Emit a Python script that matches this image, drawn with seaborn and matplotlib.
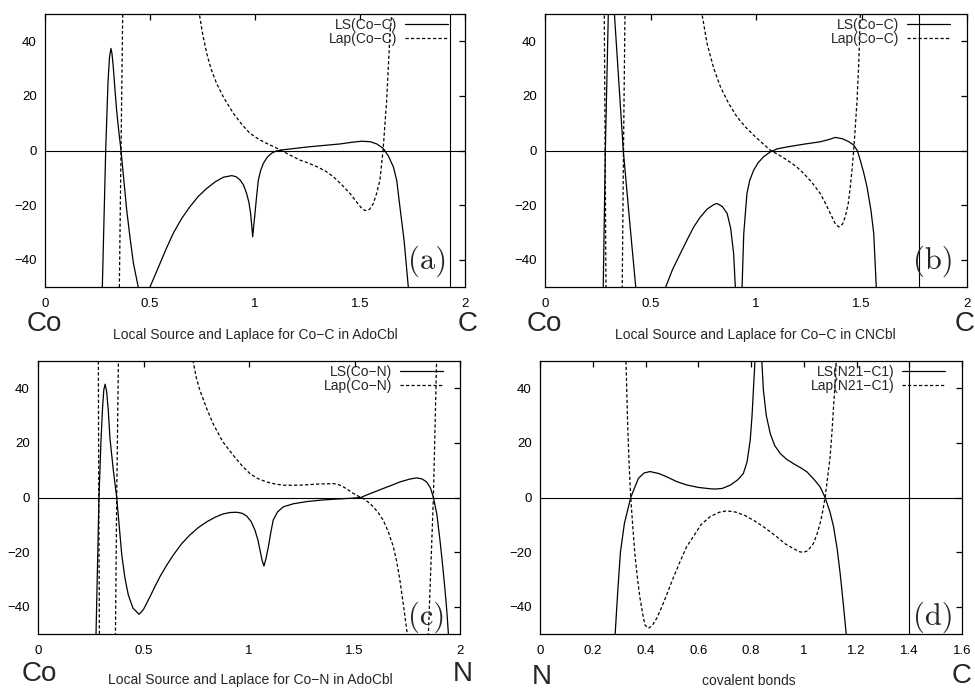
import numpy as np
import pandas as pd
import matplotlib
matplotlib.use("Agg")
import matplotlib.pyplot as plt
import seaborn as sns
from matplotlib.ticker import FuncFormatter, MultipleLocator
from matplotlib.lines import Line2D

sns.set_style("white")
plt.rcParams["font.family"] = ["Liberation Sans", "DejaVu Sans"]

# ---------------- data ----------------
# (a) Co-C in AdoCbl
a_ls_x = [0.26, 0.273, 0.289, 0.300, 0.307, 0.314, 0.319, 0.325, 0.333, 0.341, 0.350, 0.362,
          0.375, 0.389, 0.405, 0.421, 0.444, 0.472, 0.500, 0.525, 0.548, 0.580, 0.611, 0.650,
          0.690, 0.730, 0.770, 0.810, 0.849, 0.889, 0.910, 0.929, 0.945, 0.960, 0.971, 0.979,
          0.985, 0.989, 0.994, 1.000, 1.008, 1.016, 1.027, 1.040, 1.058, 1.079, 1.100, 1.127,
          1.25, 1.405, 1.46, 1.508, 1.55, 1.58, 1.61, 1.635, 1.659, 1.675, 1.69, 1.71,
          1.73, 1.75]
a_ls_y = [-80, -50, 0, 25, 34, 37.4, 35.5, 30.7, 22.5, 14.8, 8, 0,
          -10.5, -21.8, -32, -41.3, -50, -60, -50, -45.5, -41.3, -35.5, -30.3, -25,
          -20.6, -16.8, -13.9, -11.5, -9.8, -9.2, -9.6, -10.8, -12.6, -15.7, -19, -23,
          -28, -31.6, -27.5, -23, -16.5, -10.8, -7.3, -4.7, -2.5, -1, -0.2, 0.2,
          1.3, 2.4, 3.0, 3.4, 3.2, 2.4, 0.8, -2, -6, -11, -20.6, -33,
          -50, -70]
a_lap_x = [0.30, 0.354, 0.362, 0.370, 0.40, 0.55, 0.70, 0.735, 0.75, 0.77, 0.79, 0.817,
           0.85, 0.897, 0.94, 0.976, 1.02, 1.056, 1.10, 1.135, 1.175, 1.214, 1.254, 1.294,
           1.335, 1.373, 1.41, 1.452, 1.49, 1.510, 1.524, 1.545, 1.563, 1.58, 1.595, 1.61,
           1.627, 1.643, 1.651, 1.66]
a_lap_y = [-80, -50, 0, 50, 80, 90, 80, 50, 43, 35.6, 30, 24.6,
           19.5, 13.6, 9.3, 6.3, 4, 2.6, 1.0, -0.4, -2, -3.5, -4.6, -5.9,
           -7.5, -9.6, -12.3, -15.7, -19.5, -21.3, -22, -21.6, -19.5, -15.5, -10.8, 0.2,
           18.5, 43, 50, 70]

# (b) Co-C in CNCbl
b_ls_x = [0.26, 0.276, 0.286, 0.300, 0.315, 0.329, 0.350, 0.371, 0.40, 0.43, 0.50, 0.572,
          0.605, 0.641, 0.675, 0.705, 0.735, 0.768, 0.80, 0.815, 0.84, 0.863, 0.88, 0.894,
          0.902, 0.918, 0.934, 0.942, 0.957, 0.97, 0.989, 1.01, 1.036, 1.068, 1.10, 1.147,
          1.225, 1.305, 1.345, 1.376, 1.41, 1.44, 1.463, 1.48, 1.494, 1.51, 1.526, 1.545,
          1.558, 1.57, 1.58]
b_ls_y = [-80, -50, 0, 50, 70, 50, 25, 0, -25, -50, -70, -50,
          -43.5, -37.8, -32.5, -28, -24.5, -21.5, -19.8, -19.4, -20.5, -23, -28.5, -37.8,
          -50, -80, -50, -30.4, -15.8, -11, -7.2, -4.5, -2.3, -0.5, 0.6, 1.3,
          2.3, 3.2, 4.0, 4.8, 4.3, 3.2, 2.0, 0, -3.5, -8, -13.3, -22,
          -30.4, -50, -70]
b_lap_x = [0.25, 0.281, 0.285, 0.289, 0.32, 0.366, 0.372, 0.379, 0.42, 0.6, 0.72, 0.744,
           0.768, 0.80, 0.831, 0.87, 0.91, 0.95, 0.989, 1.03, 1.068, 1.11, 1.147, 1.19,
           1.226, 1.265, 1.305, 1.33, 1.352, 1.375, 1.392, 1.41, 1.423, 1.437, 1.447, 1.455,
           1.463, 1.471, 1.479, 1.487, 1.494, 1.50]
b_lap_y = [80, 50, 0, -50, -80, -50, 0, 50, 80, 90, 80, 50,
           39.2, 30, 23.4, 17.3, 12.3, 8.6, 5.6, 2.7, 0.1, -1.7, -3.5, -5.8,
           -8.4, -11.7, -15.8, -19.5, -23, -26.7, -28, -27, -24.3, -19.5, -13.3, -7,
           0.1, 9, 18.5, 32, 49, 70]

# (c) Co-N in AdoCbl
c_ls_x = [0.26, 0.275, 0.289, 0.298, 0.306, 0.312, 0.318, 0.325, 0.333, 0.341, 0.357, 0.373,
          0.397, 0.412, 0.428, 0.45, 0.479, 0.50, 0.531, 0.555, 0.578, 0.61, 0.641, 0.68,
          0.72, 0.76, 0.80, 0.84, 0.878, 0.91, 0.942, 0.968, 0.989, 1.01, 1.028, 1.042,
          1.052, 1.062, 1.071, 1.08, 1.092, 1.104, 1.115, 1.135, 1.163, 1.21, 1.273, 1.35,
          1.431, 1.48, 1.53, 1.557, 1.6, 1.636, 1.68, 1.715, 1.76, 1.794, 1.82, 1.842,
          1.86, 1.874, 1.89, 1.905, 1.918, 1.929, 1.938, 1.945, 1.955]
c_ls_y = [-80, -50, 0, 20, 33, 39.5, 41.5, 39, 32, 21.7, 10, 0,
          -21, -29.5, -35.7, -40.5, -42.8, -41, -36.3, -32.5, -29, -24.8, -21.1, -17,
          -13.7, -11, -8.9, -7.2, -6.0, -5.5, -5.4, -5.8, -6.8, -8.8, -11.9, -15.5,
          -19.2, -23, -25.1, -22.5, -18, -12.5, -8.2, -5.3, -3.4, -2.3, -1.5, -0.9,
          -0.5, -0.3, 0, 0.9, 2.2, 3.3, 4.6, 5.7, 6.7, 7.2, 6.8, 5.7,
          3.5, 0, -6, -15.6, -25, -33.9, -42, -50, -70]
c_lap_x = [0.25, 0.286, 0.288, 0.291, 0.33, 0.367, 0.373, 0.381, 0.42, 0.6, 0.72, 0.735,
           0.75, 0.767, 0.80, 0.83, 0.875, 0.925, 0.965, 1.004, 1.04, 1.083, 1.12, 1.162,
           1.24, 1.32, 1.4, 1.425, 1.447, 1.47, 1.494, 1.518, 1.542, 1.565, 1.589, 1.612,
           1.636, 1.66, 1.684, 1.70, 1.715, 1.733, 1.75, 1.80, 1.85, 1.874, 1.889, 1.90]
c_lap_y = [80, 50, 0, -50, -80, -50, 0, 50, 80, 90, 80, 50,
           44, 39.3, 32.5, 27, 20.5, 15.5, 11.8, 8.8, 7, 5.7, 5, 4.5,
           4.5, 4.9, 5.1, 4.7, 3.9, 2.8, 1.5, 0.5, -0.4, -1.7, -3.4, -5.5,
           -8.3, -12.5, -18, -23.5, -30.2, -40, -50, -80, -50, 0, 50, 70]

# (d) N21-C1 covalent bond
d_ls_x = [0.27, 0.285, 0.295, 0.305, 0.32, 0.344, 0.373, 0.395, 0.417, 0.45, 0.48, 0.519,
          0.556, 0.6, 0.645, 0.665, 0.69, 0.721, 0.75, 0.771, 0.785, 0.797, 0.804, 0.809,
          0.815, 0.828, 0.841, 0.847, 0.858, 0.873, 0.89, 0.911, 0.935, 0.961, 0.99, 1.012,
          1.04, 1.062, 1.081, 1.10, 1.113, 1.127, 1.138, 1.15, 1.161, 1.17]
d_ls_y = [-80, -50, -34, -20, -9.5, 0, 7, 9, 9.5, 8.8, 7.6, 5.8,
          4.6, 3.7, 3.2, 3.1, 3.3, 4.5, 6.5, 8.8, 13, 21, 30, 39.3,
          50, 70, 50, 39.3, 30, 23.4, 19, 16.1, 14, 12.4, 10.8, 9.4,
          6.5, 3.9, 0, -5.5, -10.7, -19, -27.8, -39, -50, -70]
d_lap_x = [0.30, 0.326, 0.332, 0.338, 0.344, 0.352, 0.36, 0.37, 0.379, 0.39, 0.398, 0.411,
           0.425, 0.442, 0.46, 0.48, 0.505, 0.531, 0.556, 0.581, 0.61, 0.645, 0.68, 0.708,
           0.74, 0.775, 0.809, 0.85, 0.898, 0.93, 0.961, 0.985, 0.999, 1.015, 1.037, 1.05,
           1.062, 1.072, 1.081, 1.09, 1.10, 1.107, 1.113, 1.119, 1.123, 1.13]
d_lap_y = [80, 50, 27.8, 12, 0, -11, -21, -30, -36.8, -43, -46.7, -47.9,
           -47, -44.3, -40.5, -35.7, -29.5, -23.5, -18, -14.4, -10, -7, -5.4, -4.9,
           -5.3, -6.5, -8.3, -10.9, -14.4, -17, -18.7, -19.9, -20.1, -19.5, -16.8, -13.5,
           -9.5, -5, 0, 7, 14.9, 24, 33.2, 42, 50, 70]

ls_labels = ["LS(Co\u2212C)", "LS(Co\u2212C)", "LS(Co\u2212N)", "LS(N21\u2212C1)"]
lap_labels = ["Lap(Co\u2212C)", "Lap(Co\u2212C)", "Lap(Co\u2212N)", "Lap(N21\u2212C1)"]
panel_tags = ["(a)", "(b)", "(c)", "(d)"]
bond_lengths = [1.929, 1.772, None, 1.398]
x_max = [2, 2, 2, 1.6]
x_step = [0.5, 0.5, 0.5, 0.2]
x_titles = ["Local Source and Laplace for Co\u2212C in AdoCbl",
            "Local Source and Laplace for Co\u2212C in CNCbl",
            "Local Source and Laplace for Co\u2212N in AdoCbl",
            "covalent bonds"]
atom_left = ["Co", "Co", "Co", "N"]
atom_right = ["C", "C", "N", "C"]
y_ticks = [-40, -20, 0, 20, 40]

ls_x = [a_ls_x, b_ls_x, c_ls_x, d_ls_x]
ls_y = [a_ls_y, b_ls_y, c_ls_y, d_ls_y]
lap_x = [a_lap_x, b_lap_x, c_lap_x, d_lap_x]
lap_y = [a_lap_y, b_lap_y, c_lap_y, d_lap_y]

# ---------------- layout ----------------
W, H = 975, 690
fig = plt.figure(figsize=(W / 100, H / 100), dpi=100)

# axes boxes in pixels: left, top, right, bottom
boxes = [(45, 14, 465, 287), (545, 14, 967, 287), (38, 361, 460, 634), (540, 361, 962, 634)]
tag_pos = [(0.957, 0.096), (0.969, 0.096), (0.964, 0.063), (0.981, 0.063)]
# text positions in pixels
xlab_pos = [(255, 339), (755, 339), (250, 684), (749, 685)]
left_atom_pos = [(27, 331), (527, 331), (22, 681), (532, 684)]
right_atom_pos = [(458, 331), (955, 331), (453, 681), (952, 683)]

fmt = FuncFormatter(lambda v, p: ("%g" % v).replace("-", "\u2212"))
lw = 0.9
dash = (0, (2.6, 1.8))

for i in range(4):
    l, t, r, b = boxes[i]
    ax = fig.add_axes([l / W, 1 - b / H, (r - l) / W, (b - t) / H])
    ax.axhline(0, color="black", lw=0.8, zorder=1)
    if bond_lengths[i] is not None:
        ax.axvline(bond_lengths[i], color="black", lw=0.8, zorder=1)
    df_ls = pd.DataFrame({"x": ls_x[i], "y": ls_y[i]})
    df_lap = pd.DataFrame({"x": lap_x[i], "y": lap_y[i]})
    sns.lineplot(data=df_ls, x="x", y="y", ax=ax, color="black", lw=lw,
                 sort=False, estimator=None)
    sns.lineplot(data=df_lap, x="x", y="y", ax=ax, color="black", lw=lw,
                 sort=False, estimator=None, linestyle=dash)
    ax.set_xlim(0, x_max[i])
    ax.set_ylim(-50, 50)
    ax.xaxis.set_major_locator(MultipleLocator(x_step[i]))
    ax.set_yticks(y_ticks)
    ax.xaxis.set_major_formatter(fmt)
    ax.yaxis.set_major_formatter(fmt)
    ax.set_xlabel("")
    ax.set_ylabel("")
    ax.tick_params(direction="in", length=4, width=0.9, top=True, right=True,
                   colors="black", labelsize=9.5)
    ax.tick_params(axis="x", pad=8)
    ax.tick_params(axis="y", pad=6)
    for s in ax.spines.values():
        s.set_color("black")
        s.set_linewidth(0.9)

    handles = [Line2D([], [], color="black", lw=lw),
               Line2D([], [], color="black", lw=lw, linestyle=dash)]
    anchor_x = 1 - 17 / (r - l)
    ax.legend(handles, [ls_labels[i], lap_labels[i]], loc="upper right",
              bbox_to_anchor=(anchor_x, 0.985), frameon=False, markerfirst=False,
              handlelength=3.1, handletextpad=0.55, labelspacing=0.0,
              borderpad=0, borderaxespad=0, fontsize=10)

    ax.text(tag_pos[i][0], tag_pos[i][1], panel_tags[i], transform=ax.transAxes,
            ha="right", va="center", fontsize=22, family="cmr10")

    fig.text(xlab_pos[i][0] / W, 1 - xlab_pos[i][1] / H, x_titles[i],
             ha="center", va="baseline", fontsize=10)
    fig.text(left_atom_pos[i][0] / W, 1 - left_atom_pos[i][1] / H, atom_left[i],
             ha="left", va="baseline", fontsize=20)
    fig.text(right_atom_pos[i][0] / W, 1 - right_atom_pos[i][1] / H, atom_right[i],
             ha="left", va="baseline", fontsize=20)

fig.savefig("out.png", dpi=100, facecolor="white")
